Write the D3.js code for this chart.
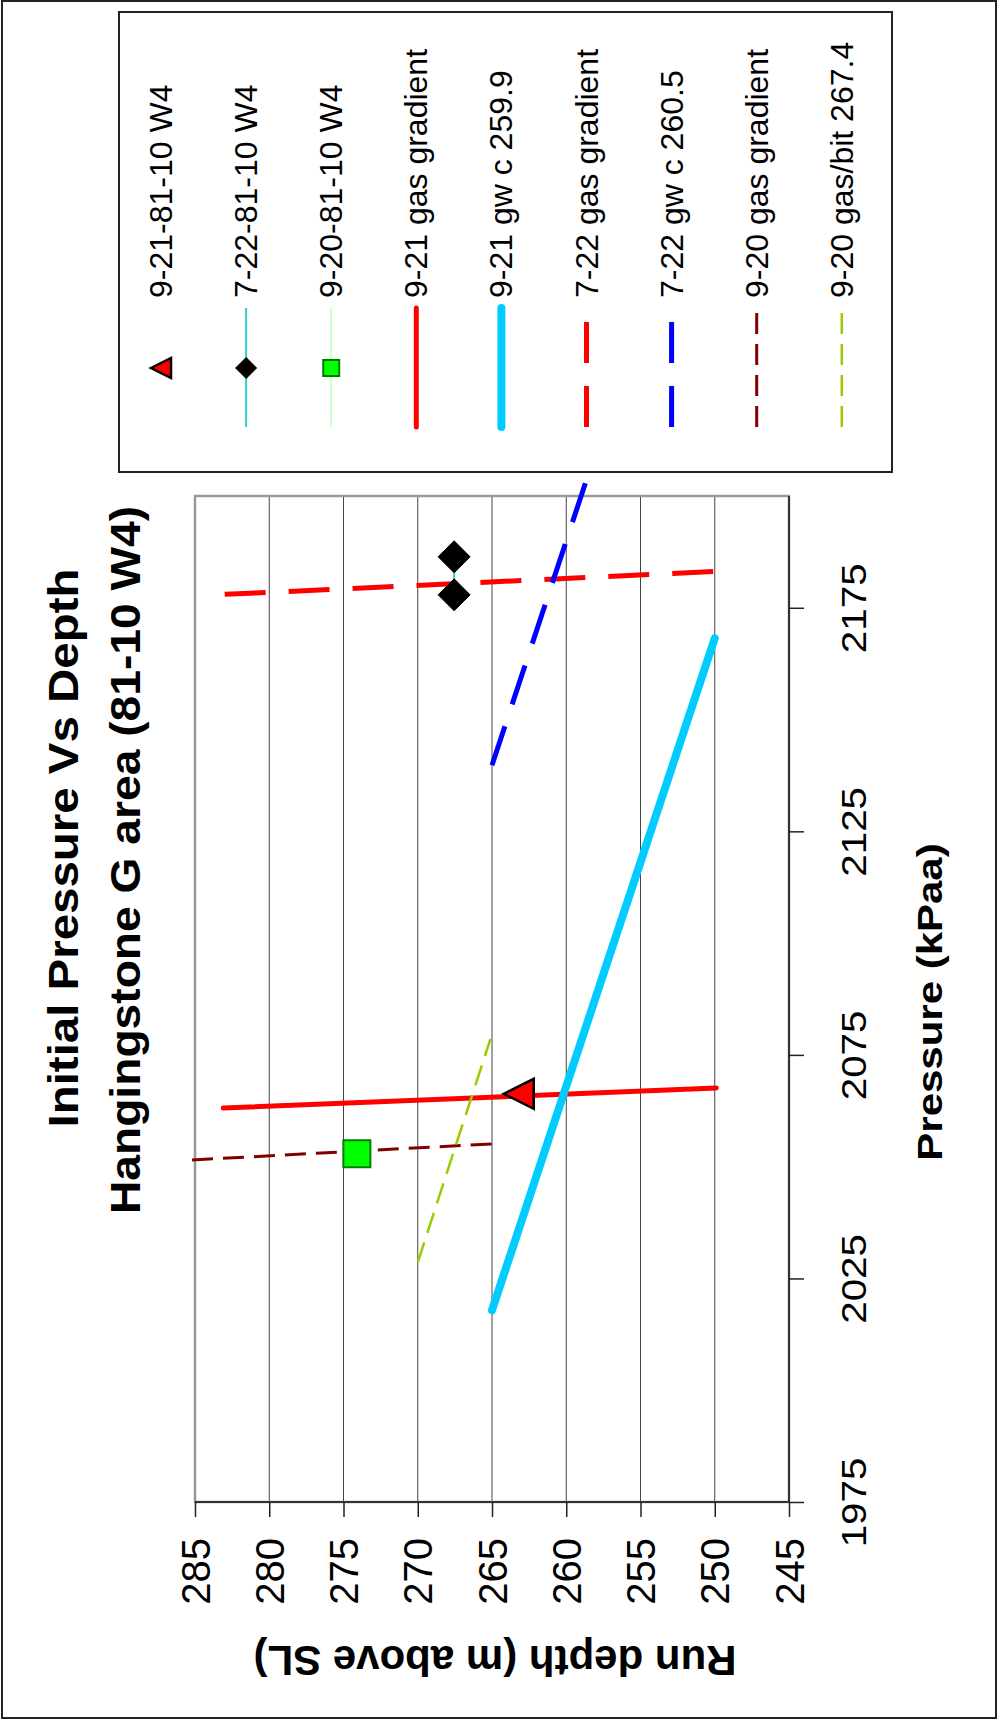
<!DOCTYPE html>
<html>
<head>
<meta charset="utf-8">
<script src="https://cdn.jsdelivr.net/npm/d3@7"></script>
<style>
  body { margin: 0; background: #fff; }
  text { font-family: "Liberation Sans", Arial, sans-serif; fill: #000; }
</style>
</head>
<body>
<svg id="chart" width="997" height="1721"></svg>
<script>
// values (depth in m above SL, pressure in kPaa)
const depthTicks = [285, 280, 275, 270, 265, 260, 255, 250, 245];
const pressureTicks = [1975, 2025, 2075, 2125, 2175];
const legendNames = ["9-21-81-10 W4", "7-22-81-10 W4", "9-20-81-10 W4",
  "9-21 gas gradient", "9-21 gw c 259.9", "7-22 gas gradient",
  "7-22 gw c 260.5", "9-20 gas gradient", "9-20 gas/bit 267.4"];

const well921 = [{depth: 263.2, pressure: 2066.3}];
const well722 = [{depth: 267.55, pressure: 2177.9}, {depth: 267.55, pressure: 2186.4}];
const well920 = [{depth: 274.1, pressure: 2052.9}];
const gas921 = [{depth: 283.1, pressure: 2063.1}, {depth: 249.9, pressure: 2067.6}];
const water921 = [{depth: 265.0, pressure: 2017.9}, {depth: 250.0, pressure: 2168.2}];
const gas722 = [{depth: 283.0, pressure: 2178.0}, {depth: 250.1, pressure: 2183.1}];
const water722 = [{depth: 265.0, pressure: 2139.8}, {depth: 258.7, pressure: 2203.0}];
const gas920 = [{depth: 285.2, pressure: 2051.5}, {depth: 265.0, pressure: 2055.1}];
const bit920 = [{depth: 270.0, pressure: 2028.6}, {depth: 265.1, pressure: 2078.6}];

// line looks, same order as the legend
const styles = [
  {marker: "tri"},
  {marker: "dia", color: "#33cccc", width: 2},
  {marker: "sq", color: "#ccffcc", width: 2},
  {color: "#ff0000", width: 5, cap: "round"},
  {color: "#00ccff", width: 8, cap: "round"},
  {color: "#ff0000", width: 5, dash: "41,23"},
  {color: "#0000ff", width: 5, dash: "41,23"},
  {color: "#800000", width: 3, dash: "21,10"},
  {color: "#99cc00", width: 2.5, dash: "21,10"}
];

const svg = d3.select("#chart");

// the whole chart is turned a quarter turn: depth runs across, pressure runs up
const x = d3.scaleLinear().domain([285, 245]).range([195, 789]);
const y = d3.scaleLinear().domain([1975, 2200]).range([1502, 496]);

// outer frame
svg.append("rect").attr("x", 2).attr("y", 1).attr("width", 994).attr("height", 1717)
  .attr("fill", "none").attr("stroke", "#222").attr("stroke-width", 2);

// grid
svg.append("g").selectAll("line")
  .data(depthTicks.slice(1, -1))
  .join("line")
  .attr("x1", d => x(d)).attr("x2", d => x(d))
  .attr("y1", y(2200)).attr("y2", y(1975))
  .attr("stroke", "#444").attr("stroke-width", 1);

svg.append("rect").attr("x", x(285)).attr("y", y(2200))
  .attr("width", x(245) - x(285)).attr("height", y(1975) - y(2200))
  .attr("fill", "none").attr("stroke", "#999").attr("stroke-width", 2.5);
svg.append("line").attr("x1", x(245)).attr("x2", x(245)).attr("y1", y(2200)).attr("y2", y(1975))
  .attr("stroke", "#333").attr("stroke-width", 2);
svg.append("line").attr("x1", x(285)).attr("x2", x(245)).attr("y1", y(1975)).attr("y2", y(1975))
  .attr("stroke", "#333").attr("stroke-width", 2);

// depth axis (bottom of the page)
const depthAxis = svg.append("g").attr("transform", `translate(0,${y(1975)})`)
  .call(d3.axisBottom(x).tickValues(depthTicks).tickSize(15).tickFormat(d3.format("d")));
depthAxis.select(".domain").remove();
depthAxis.selectAll("line").attr("stroke", "#222").attr("stroke-width", 1.5);
depthAxis.selectAll("text")
  .attr("x", 0).attr("y", 14).attr("dy", null)
  .attr("text-anchor", "end")
  .attr("transform", "translate(0,36) rotate(-90)")
  .style("font-size", "40px");

// pressure axis (right of the plot)
const pressAxis = svg.append("g").attr("transform", `translate(${x(245)},0)`)
  .call(d3.axisRight(y).tickValues(pressureTicks).tickSize(15).tickFormat(d3.format("d")));
pressAxis.select(".domain").remove();
pressAxis.selectAll("line").attr("stroke", "#222").attr("stroke-width", 1.5);
pressAxis.selectAll("text")
  .attr("x", 0).attr("y", 0).attr("dy", null)
  .attr("text-anchor", "middle")
  .attr("transform", "translate(77,0) rotate(-90) scale(1.12,1)")
  .style("font-size", "36px");

// titles
svg.append("text").attr("text-anchor", "middle")
  .attr("transform", "translate(78,848) rotate(-90) scale(1.13,1)")
  .style("font-size", "42px").style("font-weight", "bold")
  .text("Initial Pressure Vs Depth");
svg.append("text").attr("text-anchor", "middle")
  .attr("transform", "translate(140,860) rotate(-90) scale(1.1,1)")
  .style("font-size", "42px").style("font-weight", "bold")
  .text("Hangingstone G area (81-10 W4)");
svg.append("text").attr("text-anchor", "middle")
  .attr("transform", "translate(942,1002) rotate(-90) scale(1.2,1)")
  .style("font-size", "35px").style("font-weight", "bold")
  .text("Pressure (kPaa)");
svg.append("text").attr("text-anchor", "middle")
  .attr("transform", "translate(495,1646) rotate(180)")
  .style("font-size", "42px").style("font-weight", "bold")
  .text("Run depth (m above SL)");

// series
const line = d3.line().x(d => x(d.depth)).y(d => y(d.pressure));
const lineSeries = [null, well722, well920, gas921, water921, gas722, water722, gas920, bit920];
const plot = svg.append("g");
lineSeries.forEach((data, i) => {
  if (!data) return;
  const s = styles[i];
  plot.append("path").datum(data)
    .attr("d", line)
    .attr("fill", "none")
    .attr("stroke", s.color)
    .attr("stroke-width", s.width)
    .attr("stroke-linecap", s.cap || "butt")
    .attr("stroke-dasharray", s.dash || null);
});

function markerPath(kind, r) {
  if (kind === "tri") return `M${-r},0L${r},${-r}L${r},${r}Z`;
  if (kind === "dia") return `M0,${-r}L${r},0L0,${r}L${-r},0Z`;
  return `M${-r},${-r}H${r}V${r}H${-r}Z`;
}
const markerLook = {
  tri: {fill: "#ff0000", stroke: "#000", sw: 2.5},
  dia: {fill: "#000", stroke: "#000", sw: 1},
  sq: {fill: "#00ff00", stroke: "#008000", sw: 2}
};
const pointSeries = [
  {data: well921, kind: "tri", r: 15},
  {data: well722, kind: "dia", r: 16},
  {data: well920, kind: "sq", r: 13.5}
];
pointSeries.forEach(p => {
  plot.append("g").selectAll("path")
    .data(p.data)
    .join("path")
    .attr("transform", d => `translate(${x(d.depth)},${y(d.pressure)})`)
    .attr("d", markerPath(p.kind, p.r))
    .attr("fill", markerLook[p.kind].fill)
    .attr("stroke", markerLook[p.kind].stroke)
    .attr("stroke-width", markerLook[p.kind].sw)
    .attr("stroke-linejoin", "miter");
});

// legend
svg.append("rect").attr("x", 119).attr("y", 12).attr("width", 773).attr("height", 460)
  .attr("fill", "#fff").attr("stroke", "#222").attr("stroke-width", 2);
const legendR = {tri: 10, dia: 10.5, sq: 8};
const entries = svg.append("g").selectAll("g")
  .data(legendNames)
  .join("g")
  .attr("transform", (d, i) => `translate(${161 + i * 85.1},0)`);
entries.each(function(name, i) {
  const g = d3.select(this);
  const s = styles[i];
  if (s.color) {
    g.append("line").attr("x1", 0).attr("x2", 0).attr("y1", 427).attr("y2", 308)
      .attr("stroke", s.color).attr("stroke-width", s.width)
      .attr("stroke-linecap", s.cap || "butt")
      .attr("stroke-dasharray", s.dash || null);
  }
  if (s.marker) {
    const m = markerLook[s.marker];
    g.append("path").attr("transform", "translate(0,368)")
      .attr("d", markerPath(s.marker, legendR[s.marker]))
      .attr("fill", m.fill).attr("stroke", m.stroke).attr("stroke-width", m.sw);
  }
  g.append("text")
    .attr("transform", "translate(11,298) rotate(-90)")
    .attr("text-anchor", "start")
    .style("font-size", "32px")
    .text(name);
});
</script>
</body>
</html>
